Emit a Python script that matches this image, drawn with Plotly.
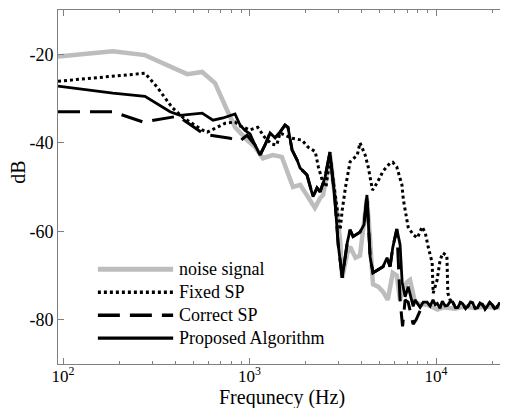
import plotly.graph_objects as go

# ---------------- data ----------------
tail_f = [8950, 9300, 9630, 9900, 10150, 10500, 10800, 11200, 11500, 11900, 12300, 12700,
          13100, 13500, 13900, 14400, 14800, 15300, 15700, 16200, 16700, 17200, 17700,
          18300, 18800, 19400, 20000, 20600, 21200, 21800, 22400, 23000, 23700]
tail_db = [-76.0, -76.9, -75.5, -76.6, -76.3, -77.4, -75.8, -76.9, -76.8, -75.9, -76.0, -77.3,
           -77.2, -76.1, -76.4, -77.5, -77.0, -76.0, -76.2, -77.4, -77.3, -76.2, -76.5,
           -77.6, -77.0, -76.1, -76.6, -77.5, -77.2, -76.3, -76.5, -77.4, -76.8]

noise_f = [94, 123, 185, 275, 361, 463, 557, 653, 757, 836, 971, 1070, 1180, 1330, 1490,
           1710, 1870, 2040, 2240, 2390, 2480, 2700, 2870, 3060, 3140, 3340, 3460, 3700,
           3910, 4060, 4260, 4430, 4590, 4890, 5200, 5510, 5860, 6160, 6410, 6680, 7000,
           7250, 7710, 8210, 8950, 9630, 10150, 11000, 12650, 14300, 16200, 18300, 20700, 23700]
noise_db = [-20.5, -20.0, -19.3, -20.2, -22.5, -24.5, -24.0, -26.5, -32.6, -36.5, -39.4, -41.0,
            -43.5, -42.8, -43.2, -50.0, -49.5, -52.2, -54.7, -52.5, -51.8, -42.8, -52.5, -62.0,
            -70.5, -65.0, -63.5, -66.0, -65.5, -59.7, -52.5, -62.0, -72.0, -72.5, -73.7, -75.5,
            -69.4, -70.0, -75.5, -72.8, -71.5, -71.0, -76.0, -76.5, -76.6, -77.2, -77.7, -77.2,
            -77.5, -77.0, -77.4, -77.0, -77.3, -77.0]

fixed_f = [94, 275, 319, 366, 384, 440, 498, 557, 593, 653, 740, 836, 889, 1006, 1106, 1202,
           1314, 1400, 1457, 1590, 1690, 1910, 2060, 2250, 2340, 2450, 2570, 2700, 2870, 3060,
           3140, 3270, 3460, 3780, 3910, 4170, 4330, 4560, 4840, 5200, 5670, 5860, 6160, 6560,
           6680, 6830, 7080, 7540, 7940, 8420, 8760, 9070, 9530, 9650, 10130, 10510, 10880,
           11430, 11570, 11890] + tail_f[10:]
fixed_db = [-26.1, -24.3, -27.4, -31.0, -32.0, -34.3, -35.8, -37.1, -37.6, -36.7, -35.6, -35.3,
            -36.2, -37.1, -36.5, -38.7, -40.3, -40.5, -37.8, -38.5, -39.0, -39.4, -41.0, -42.0,
            -45.5, -48.4, -50.0, -43.5, -52.0, -59.7, -55.2, -50.0, -44.3, -42.8, -40.0, -42.8,
            -45.5, -50.7, -49.0, -46.4, -44.6, -44.4, -45.5, -49.5, -52.9, -55.2, -59.0, -60.8,
            -61.5, -59.0, -60.4, -63.5, -67.1, -74.0, -71.0, -66.5, -64.9, -65.5, -74.0,
            -75.5] + tail_db[10:]

correct_f = [94, 185, 268, 414, 560, 614, 786, 889, 970, 1070, 1138, 1211, 1288, 1371, 1457,
             1549, 1607, 1690, 1799, 1866, 2033, 2189, 2300, 2390, 2543, 2700, 2870, 2987,
             3140, 3340, 3460, 3590, 3910, 4110, 4260, 4430, 4590, 4890, 5200, 5460, 5670,
             5860, 6160, 6412, 6614, 6825, 7086, 7535, 7816, 8207]
correct_db = [-33.0, -33.0, -35.3, -34.0, -37.8, -38.3, -39.0, -39.6, -38.3, -40.5, -42.8,
              -40.5, -37.8, -38.9, -37.6, -36.0, -36.5, -41.6, -43.9, -45.7, -47.3, -52.2,
              -50.2, -51.1, -47.7, -42.1, -52.9, -63.0, -70.5, -62.6, -59.7, -61.2, -60.2,
              -58.5, -51.8, -65.8, -69.4, -68.7, -68.0, -66.0, -68.0, -63.7, -59.5, -75.5,
              -81.5, -75.5, -76.0, -81.0, -80.0, -78.0]

proposed_f = [94, 185, 275, 375, 424, 557, 637, 721, 836, 889, 946, 1006, 1070, 1138, 1211,
              1288, 1371, 1457, 1549, 1607, 1690, 1799, 1866, 2033, 2189, 2300, 2390, 2543,
              2700, 2870, 2987, 3140, 3340, 3460, 3590, 3910, 4110, 4260, 4430, 4590, 4890,
              5200, 5460, 5670, 5860, 6160, 6410, 6580, 6830, 7090, 7540, 7710, 8210,
              8540] + tail_f
proposed_db = [-27.2, -28.8, -29.5, -33.0, -33.8, -33.3, -34.9, -34.4, -33.5, -36.0, -37.2,
               -38.0, -40.5, -42.8, -40.5, -37.8, -38.9, -37.6, -36.0, -36.5, -41.6, -43.9,
               -45.7, -47.3, -52.2, -50.2, -51.1, -47.7, -42.1, -52.9, -63.0, -70.5, -62.6,
               -59.7, -61.2, -60.2, -58.5, -51.8, -65.8, -69.4, -68.7, -68.0, -66.0, -68.0,
               -63.7, -59.5, -63.0, -71.6, -74.8, -72.5, -77.0, -75.5, -77.2, -76.0] + tail_db

series_names = ["noise signal", "Fixed SP", "Correct SP", "Proposed Algorithm"]
x_tick_vals = [100, 1000, 10000]
x_tick_text = ["10<sup>2</sup>", "10<sup>3</sup>", "10<sup>4</sup>"]
y_tick_vals = [-80, -60, -40, -20]
y_tick_text = ["-80", "-60", "-40", "-20"]
x_minor_vals = [m * d for d in (100, 1000, 10000) for m in range(2, 10) if m * d < 24000]

# ---------------- styles ----------------
FONT = "Liberation Serif"
styles = [
    dict(color="#bdbdbd", width=4.5, dash="solid"),
    dict(color="black", width=3, dash="3px,3px"),
    dict(color="black", width=3, dash="22px,10px"),
    dict(color="black", width=2.8, dash="solid"),
]

fig = go.Figure()
for name, xs, ys, st in zip(series_names,
                            [noise_f, fixed_f, correct_f, proposed_f],
                            [noise_db, fixed_db, correct_db, proposed_db],
                            styles):
    fig.add_trace(go.Scatter(x=xs, y=ys, mode="lines", name=name, line=st, showlegend=False))

# custom legend (long line samples, as in the reference)
leg_y = [0.268, 0.203, 0.138, 0.073]
for name, st, yy in zip(series_names, styles, leg_y):
    fig.add_shape(type="line", xref="paper", yref="paper", x0=0.089, x1=0.257, y0=yy, y1=yy,
                  line=dict(color=st["color"], width=st["width"] + 0.5, dash=st["dash"]))
    fig.add_annotation(xref="paper", yref="paper", x=0.265, y=yy, text=name, showarrow=False,
                       xanchor="left", yanchor="middle",
                       font=dict(family=FONT, size=18, color="black"))

# axis titles
fig.add_annotation(xref="paper", yref="paper", x=0.5, y=-0.095, text="Frequnecy (Hz)",
                   showarrow=False, xanchor="center", yanchor="middle",
                   font=dict(family=FONT, size=20, color="black"))
fig.add_annotation(xref="paper", yref="paper", x=-0.088, y=0.542, text="dB", textangle=-90,
                   showarrow=False, xanchor="center", yanchor="middle",
                   font=dict(family=FONT, size=20, color="black"))

axis_common = dict(showgrid=False, zeroline=False, showline=True, linecolor="#808080",
                   linewidth=1, mirror="ticks", ticks="inside", tickcolor="#808080",
                   automargin=False)

fig.update_xaxes(type="log", range=[1.973, 4.375], tickvals=x_tick_vals, ticktext=x_tick_text,
                 ticklen=6, tickfont=dict(family=FONT, size=17, color="black"),
                 ticklabelstandoff=-3,
                 minor=dict(ticks="inside", ticklen=3, tickcolor="#808080", tickvals=x_minor_vals),
                 **axis_common)
fig.update_yaxes(range=[-90, -10], tickvals=y_tick_vals, ticktext=y_tick_text, ticklen=6,
                 tickfont=dict(family=FONT, size=18, color="black"),
                 **axis_common)

# the page body adds an 8px margin, so the figure is sized to fit within the window
fig.update_layout(width=500, height=400, margin=dict(l=50, r=2, t=2, b=44),
                  font=dict(family=FONT, color="black"),
                  paper_bgcolor="white", plot_bgcolor="white", showlegend=False)

fig.write_html("out.html")
